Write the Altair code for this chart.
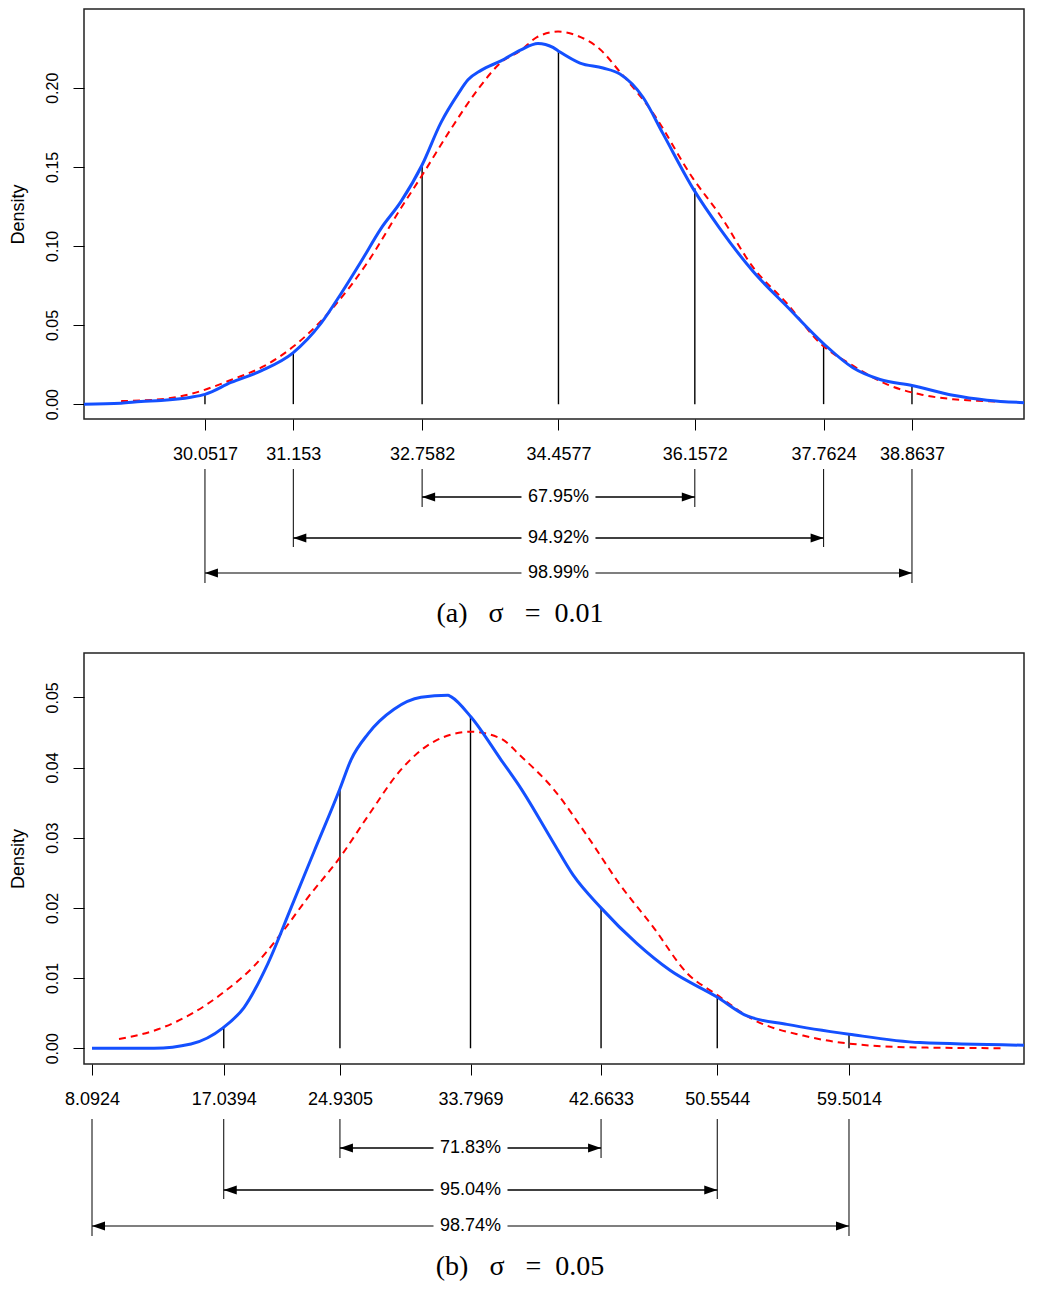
import altair as alt
import pandas as pd

# ---------------- Panel (a): sigma = 0.01 ----------------
a_quant = [30.0517, 31.153, 32.7582, 34.4577, 36.1572, 37.7624, 38.8637]
a_seg_top = [0.0064, 0.0324, 0.1508, 0.2237, 0.1364, 0.038, 0.0118]
a_lo = [32.7582, 31.153, 30.0517]
a_hi = [36.1572, 37.7624, 38.8637]
a_pct = ["67.95%", "94.92%", "98.99%"]
a_mid = 34.4577
a_yticks = [0.0, 0.05, 0.10, 0.15, 0.20]

a_blue_x = [28.544, 29.005, 29.254, 29.503, 29.877, 30.052, 30.376, 30.750, 31.149, 31.497,
            31.747, 31.996, 32.245, 32.494, 32.756, 32.993, 33.205, 33.330, 33.492, 33.741,
            33.990, 34.202, 34.389, 34.464, 34.726, 35.012, 35.224, 35.511, 35.760, 36.134,
            36.470, 36.882, 37.306, 37.767, 38.128, 38.465, 38.864, 39.375, 39.798, 40.447]
a_blue_y = [0.0, 0.0006, 0.0017, 0.0023, 0.0044, 0.0062, 0.0137, 0.021, 0.0324, 0.051,
            0.0698, 0.090, 0.111, 0.128, 0.151, 0.178, 0.196, 0.205, 0.211, 0.217,
            0.224, 0.228, 0.2255, 0.223, 0.2156, 0.2125, 0.2087, 0.194, 0.171, 0.1364,
            0.111, 0.084, 0.0617, 0.038, 0.023, 0.0156, 0.0118, 0.0056, 0.0025, 0.0006]
a_red_x = [29.005, 29.503, 29.877, 30.413, 30.787, 31.161, 31.660, 32.083, 32.495, 32.756,
           33.118, 33.454, 33.741, 33.990, 34.190, 34.452, 34.688, 34.975, 35.224, 35.636,
           36.134, 36.470, 36.882, 37.306, 37.717, 38.128, 38.552, 38.963, 39.375, 39.798,
           40.098]
a_red_y = [0.0019, 0.0031, 0.0065, 0.016, 0.024, 0.0367, 0.0617, 0.090, 0.124, 0.1445,
           0.174, 0.199, 0.216, 0.2237, 0.232, 0.2355, 0.233, 0.2243, 0.210, 0.184,
           0.1427, 0.1196, 0.0866, 0.0636, 0.0386, 0.0243, 0.0125, 0.0062, 0.0031, 0.0019,
           0.0012]

# ---------------- Panel (b): sigma = 0.05 ----------------
b_quant = [8.0924, 17.0394, 24.9305, 33.7969, 42.6633, 50.5544, 59.5014]
b_seg_top = [0.0, 0.0029, 0.0369, 0.0472, 0.020, 0.0073, 0.0020]
b_lo = [24.9305, 17.0394, 8.0924]
b_hi = [42.6633, 50.5544, 59.5014]
b_pct = ["71.83%", "95.04%", "98.74%"]
b_mid = 33.7969
b_yticks = [0.0, 0.01, 0.02, 0.03, 0.04, 0.05]

b_blue_x = [8.092, 12.303, 14.816, 16.989, 18.415, 20.045, 21.607, 23.169, 24.935, 25.682,
            26.837, 28.603, 30.436, 32.270, 32.47, 33.832, 35.870, 37.228, 39.401, 40.760,
            42.661, 45.106, 47.347, 50.539, 52.576, 55.293, 59.503, 64.325, 72.405]
b_blue_y = [0.0, 0.0, 0.0006, 0.0029, 0.0058, 0.0121, 0.020, 0.028, 0.037, 0.0411,
            0.0448, 0.0483, 0.050, 0.0503, 0.0501, 0.0472, 0.0411, 0.037, 0.0294, 0.0247,
            0.020, 0.0149, 0.0111, 0.0073, 0.0046, 0.0034, 0.0020, 0.0008, 0.0004]
b_red_x = [9.926, 12.575, 15.019, 16.989, 19.094, 20.926, 22.760, 24.935, 26.837, 29.078,
           31.319, 33.832, 35.870, 37.228, 39.401, 41.710, 43.951, 46.193, 48.502, 50.539,
           52.984, 56.380, 59.775, 64.325, 69.962]
b_red_y = [0.0013, 0.0027, 0.0051, 0.0079, 0.0117, 0.0163, 0.0215, 0.0272, 0.0331, 0.0397,
           0.0437, 0.0451, 0.0441, 0.0416, 0.037, 0.0303, 0.0233, 0.0173, 0.0107, 0.0076,
           0.0041, 0.0018, 0.0006, 0.0001, 0.0]

BLUE = "#1450ff"
RED = "#ff0000"
SANS = "Liberation Sans"
SERIF = "Liberation Serif"
W = 940
NB = "\u00a0"


def panel(quant, seg_top, lo, hi, pct, mid, bx, by, rx, ry, xdom, ydom, yticks,
          height, vtop, rows, ends, cap_y, caption):
    xscale = alt.Scale(domain=xdom, nice=False, zero=False)
    yscale = alt.Scale(domain=ydom, nice=False, zero=False)
    xaxis = alt.Axis(values=quant, format=".4~f", title=None, labelOverlap=False,
                     labelFlush=False)
    yaxis = alt.Axis(values=yticks, format=".2f", title="Density")

    def X(f):
        return alt.X(f, scale=xscale, axis=xaxis, title=None)

    def Y(f):
        return alt.Y(f, scale=yscale, axis=yaxis)

    blue = alt.Chart(pd.DataFrame({"x": bx, "y": by})).mark_line(
        color=BLUE, strokeWidth=3, interpolate="monotone", clip=True).encode(
        x=X("x:Q"), y=Y("y:Q"))
    red = alt.Chart(pd.DataFrame({"x": rx, "y": ry})).mark_line(
        color=RED, strokeWidth=2, strokeDash=[7, 5], interpolate="monotone", clip=True).encode(
        x=X("x:Q"), y=Y("y:Q"))
    segs = alt.Chart(pd.DataFrame({"x": quant, "base": [0.0] * len(quant), "top": seg_top})).mark_rule(
        color="black", strokeWidth=1.4).encode(x=X("x:Q"), y=Y("base:Q"), y2="top:Q")

    layers = [segs, red, blue]
    gap = 37
    widths = [1.6, 1.6, 1.2]
    left_arrow = "M -1 0 L 1 -0.7 L 1 0.7 Z"
    right_arrow = "M 1 0 L -1 -0.7 L -1 0.7 Z"
    for i in range(len(lo)):
        d = pd.DataFrame({"lo": [lo[i]], "hi": [hi[i]], "mid": [mid], "label": [pct[i]]})
        ends_df = pd.DataFrame({"x": [lo[i], hi[i]]})
        layers.append(alt.Chart(ends_df).mark_rule(color="black", strokeWidth=1).encode(
            x=X("x:Q"), y=alt.value(vtop), y2=alt.value(ends[i])))
        layers.append(alt.Chart(d).mark_rule(color="black", strokeWidth=widths[i],
                                             x2Offset=-gap).encode(
            x=X("lo:Q"), x2="mid:Q", y=alt.value(rows[i])))
        layers.append(alt.Chart(d).mark_rule(color="black", strokeWidth=widths[i],
                                             xOffset=gap).encode(
            x=X("mid:Q"), x2="hi:Q", y=alt.value(rows[i])))
        layers.append(alt.Chart(d).mark_point(shape=left_arrow, size=169, filled=True,
                                              color="black", opacity=1, xOffset=6.5,
                                              strokeWidth=0).encode(
            x=X("lo:Q"), y=alt.value(rows[i])))
        layers.append(alt.Chart(d).mark_point(shape=right_arrow, size=169, filled=True,
                                              color="black", opacity=1, xOffset=-6.5,
                                              strokeWidth=0).encode(
            x=X("hi:Q"), y=alt.value(rows[i])))
        layers.append(alt.Chart(d).mark_text(font=SANS, fontSize=18, color="black",
                                             align="center", baseline="middle").encode(
            x=X("mid:Q"), y=alt.value(rows[i]), text="label:N"))
    layers.append(alt.Chart(pd.DataFrame({"t": [caption]})).mark_text(
        font=SERIF, fontSize=28, color="black", align="center", baseline="middle").encode(
        x=alt.value(436), y=alt.value(cap_y), text="t:N"))
    return alt.layer(*layers).properties(width=W, height=height)


cap_a = "(a)" + NB * 3 + "σ" + NB * 3 + "=" + NB * 2 + "0.01"
cap_b = "(b)" + NB * 3 + "σ" + NB * 3 + "=" + NB * 2 + "0.05"

pa = panel(a_quant, a_seg_top, a_lo, a_hi, a_pct, a_mid, a_blue_x, a_blue_y, a_red_x, a_red_y,
           [28.544, 40.260], [-0.0094, 0.2498], a_yticks,
           410, 460, [488, 529, 564], [498, 538, 574], 605, cap_a)
pb = panel(b_quant, b_seg_top, b_lo, b_hi, b_pct, b_mid, b_blue_x, b_blue_y, b_red_x, b_red_y,
           [7.549, 71.386], [-0.00225, 0.05632], b_yticks,
           411, 466, [495, 537, 573], [505, 546, 583], 614, cap_b)

chart = alt.vconcat(pa, pb, spacing=23).properties(
    padding={"left": 0, "top": 0, "right": 0, "bottom": 0}
).configure_view(stroke="#222222", strokeWidth=1.5).configure_axis(
    grid=False, domain=False, tickColor="black", tickWidth=1, tickSize=11,
    labelColor="black", titleColor="black", labelFont=SANS, titleFont=SANS,
    titleFontWeight="normal"
).configure_axisX(
    labelFontSize=18, labelPadding=15
).configure_axisY(
    labelFontSize=16, labelAngle=270, labelAlign="center", labelBaseline="bottom",
    labelPadding=13, titleFontSize=18, titlePadding=17
)

chart.save("out.html", embed_options={"renderer": "svg", "actions": False})
